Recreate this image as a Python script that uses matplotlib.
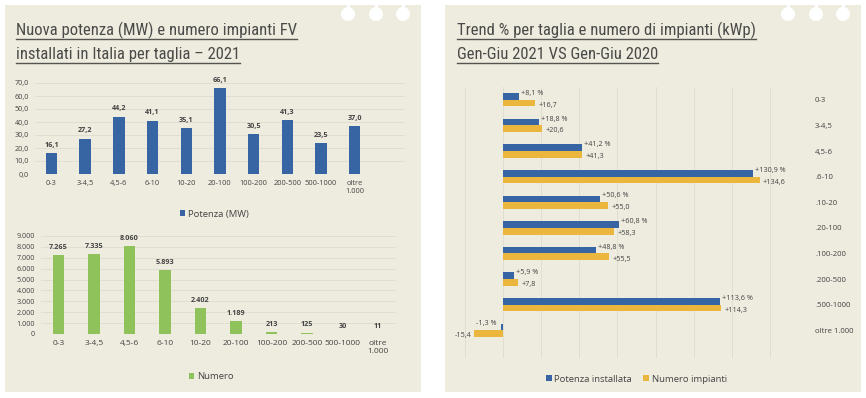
import numpy as np
import matplotlib
matplotlib.use("Agg")
import matplotlib.pyplot as plt
from matplotlib import font_manager
from matplotlib.patches import Rectangle, Ellipse
from matplotlib.lines import Line2D

# data
taglie = ["0-3", "3-4,5", "4,5-6", "6-10", "10-20", "20-100", "100-200",
          "200-500", "500-1000", "oltre\n1.000"]
potenza_mw = [16.1, 27.2, 44.2, 41.1, 35.1, 66.1, 30.5, 41.3, 23.5, 37.0]
numero = [7265, 7335, 8060, 5893, 2402, 1189, 213, 125, 30, 11]

trend_cat = ["0-3", "3-4,5", "4,5-6", ".6-10", ".10-20", ".20-100", ".100-200",
             ".200-500", ".500-1000", "oltre 1.000"]
trend_potenza = [8.1, 18.8, 41.2, 130.9, 50.6, 60.8, 48.8, 5.9, 113.6, -1.3]
trend_numero = [16.7, 20.6, 41.3, 134.6, 55.0, 58.3, 55.5, 7.8, 114.3, -15.4]

BLUE = "#3765a3"
YELLOW = "#eab63e"
GREEN = "#8fc25a"
PANEL = "#eeebdf"
GRID = "#dedbcf"
TXT = "#444444"

installed = {f.name for f in font_manager.fontManager.ttflist}


def pick(names):
    for n in names:
        if n in installed:
            return n
    return "DejaVu Sans"


TITLE_FONT = pick(["Liberation Sans Narrow", "DejaVu Sans Condensed", "Roboto Condensed", "Liberation Sans"])
BODY_FONT = pick(["Open Sans", "Lato", "DejaVu Sans"])
plt.rcParams["font.family"] = BODY_FONT

W, H = 866, 398
fig = plt.figure(figsize=(W / 100, H / 100), dpi=100)
fig.patch.set_facecolor("white")


def fx(px):
    return px / W


def fy(py):
    return 1 - py / H


def ita(v, dec=1):
    s = f"{v:,.{dec}f}"
    return s.replace(",", "X").replace(".", ",").replace("X", ".")


# panels with the three white holes
for x0 in (5, 445):
    fig.patches.append(Rectangle((fx(x0), fy(392)), fx(416), 387 / H,
                                 transform=fig.transFigure, facecolor=PANEL,
                                 edgecolor="none", zorder=-2))
    for cx in (x0 + 343, x0 + 371, x0 + 398):
        fig.patches.append(Rectangle((fx(cx - 1.5), fy(12)), fx(3), 12 / H,
                                     transform=fig.transFigure, facecolor="white",
                                     edgecolor="none", zorder=-1))
        fig.patches.append(Ellipse((fx(cx), fy(14)), fx(14), 14 / H, transform=fig.transFigure,
                                   facecolor="white", edgecolor="none", zorder=-1))

# titles
titles = [
    (16, ["Nuova potenza (MW) e numero impianti FV", "installati in Italia per taglia \u2013 2021"]),
    (457, ["Trend % per taglia e numero di impianti (kWp)", "Gen-Giu 2021 VS Gen-Giu 2020"]),
]
title_texts = []
for x0, lines in titles:
    for i, line in enumerate(lines):
        t = fig.text(fx(x0), fy(35 + i * 24), line, fontsize=12, family=TITLE_FONT,
                     color="#4a4a48", ha="left", va="baseline")
        title_texts.append((t, 39 + i * 24))

# top left: potenza
ax1 = fig.add_axes([fx(34.6), fy(174), fx(370.7), 91 / H])
x = np.arange(len(taglie))
ax1.bar(x, potenza_mw, width=0.34, color=BLUE, zorder=3, label="Potenza (MW)")
ax1.set_xlim(-0.5, 10.5)
ax1.set_ylim(0, 70)
ax1.set_yticks(np.arange(0, 71, 10))
ax1.set_yticklabels([ita(v) for v in np.arange(0, 71, 10)])
ax1.set_xticks(x)
ax1.set_xticklabels(taglie)
for xi, v in zip(x, potenza_mw):
    ax1.annotate(ita(v), (xi, v), xytext=(0, 3), textcoords="offset points",
                 ha="center", va="bottom", fontsize=5.2, fontweight="bold", color=TXT)
ax1.legend(loc="upper center", bbox_to_anchor=(0.485, -0.3), frameon=False,
           fontsize=6.8, handlelength=0.6, handleheight=0.6, handletextpad=0.3,
           labelcolor=TXT)

# bottom left: numero
ax2 = fig.add_axes([fx(40.75), fy(334), fx(355), 98 / H])
ax2.bar(x, numero, width=0.33, color=GREEN, zorder=3, label="Numero")
ax2.set_xlim(-0.5, 9.5)
ax2.set_ylim(0, 9000)
ax2.set_yticks(np.arange(0, 9001, 1000))
ax2.set_yticklabels([ita(v, 0) for v in np.arange(0, 9001, 1000)])
ax2.set_xticks(x)
ax2.set_xticklabels(taglie)
for xi, v in zip(x, numero):
    ax2.annotate(ita(v, 0), (xi, v), xytext=(0, 3), textcoords="offset points",
                 ha="center", va="bottom", fontsize=5.2, fontweight="bold", color=TXT)
ax2.legend(loc="upper center", bbox_to_anchor=(0.48, -0.3), frameon=False,
           fontsize=6.8, handlelength=0.6, handleheight=0.6, handletextpad=0.3,
           labelcolor=TXT)

for ax, xs in ((ax1, 5.4), (ax2, 6)):
    ax.set_facecolor("none")
    ax.grid(axis="y", color=GRID, linewidth=0.6, zorder=0)
    for s in ax.spines.values():
        s.set_visible(False)
    ax.tick_params(length=0, labelsize=5.2, colors=TXT, pad=4)
    ax.tick_params(axis="x", labelsize=xs)

# right: trend
ax3 = fig.add_axes([fx(465), fy(358), fx(343), 271 / H])
y = np.arange(len(trend_cat))
h = 0.26
ax3.barh(y - h / 2, trend_potenza, height=h, color=BLUE, zorder=3, label="Potenza installata")
ax3.barh(y + h / 2, trend_numero, height=h, color=YELLOW, zorder=3, label="Numero impianti")
ax3.set_xlim(-20, 160)
ax3.set_ylim(10.08, -0.5)
ax3.set_xticks(np.arange(-20, 161, 20))
ax3.set_xticklabels([])
ax3.set_yticks(y)
ax3.set_yticklabels(trend_cat)
ax3.yaxis.tick_right()
ax3.set_facecolor("none")
ax3.grid(axis="x", color=GRID, linewidth=0.6, zorder=0)
for s in ax3.spines.values():
    s.set_visible(False)
ax3.tick_params(length=0, labelsize=5.6, colors=TXT, pad=5)
for yi, p, n in zip(y, trend_potenza, trend_numero):
    sp = "+" if p >= 0 else ""
    sn = "+" if n >= 0 else ""
    ha_p = "left" if p >= 0 else "right"
    ha_n = "left" if n >= 0 else "right"
    dp = 1.5 if p >= 0 else -3
    dn = 2.5 if n >= 0 else -2
    ax3.annotate(f"{sp}{ita(p)} %", (p, yi - h / 2), xytext=(dp, 2.2), textcoords="offset points",
                 ha=ha_p, va="center", fontsize=5.2, color=TXT)
    ax3.annotate(f"{sn}{ita(n)}", (n, yi + h / 2), xytext=(dn, -1.6), textcoords="offset points",
                 ha=ha_n, va="center", fontsize=5.2, color=TXT)
ax3.legend(loc="upper center", bbox_to_anchor=(0.5, -0.03), frameon=False, ncol=2,
           fontsize=6.8, handlelength=0.6, handleheight=0.6, handletextpad=0.3,
           columnspacing=1.2, labelcolor=TXT)

# underlines under title lines
fig.canvas.draw()
r = fig.canvas.get_renderer()
for t, uy in title_texts:
    bb = t.get_window_extent(renderer=r)
    fig.lines.append(Line2D([bb.x0 / W, bb.x1 / W], [fy(uy), fy(uy)], transform=fig.transFigure,
                            color="#555550", linewidth=1.0))

fig.savefig("out.png", dpi=100, facecolor="white")
